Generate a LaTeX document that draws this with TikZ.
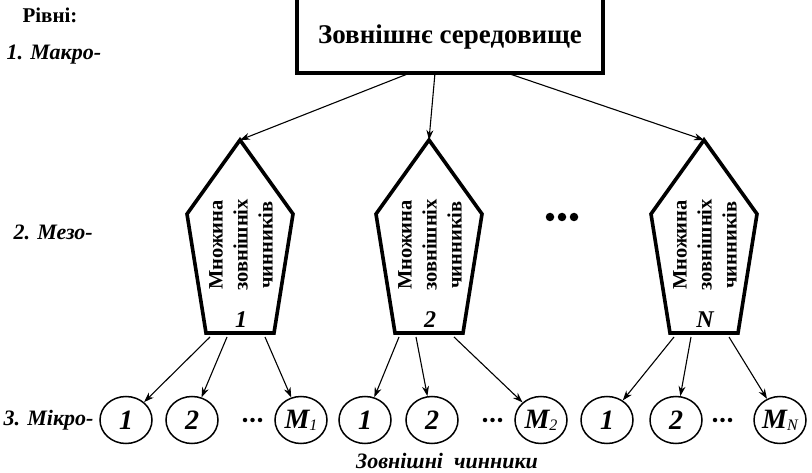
\documentclass[tikz,border=0pt]{standalone}
\usepackage{fontspec}
\setmainfont{Liberation Serif}
\usetikzlibrary{arrows.meta,shapes.geometric,calc}

% small lowered index after a letter, e.g. M_1
\newcommand{\lowidx}[1]{{\fontsize{16}{16}\selectfont\mdseries\raisebox{-2pt}{#1}}}

% pentagon "set of external factors": name, centre x, index
\newcommand{\factorset}[3]{%
  \coordinate (#1top) at (#2,140);
  \coordinate (#1tl) at ($(#2,140)+(-53,74)$);
  \coordinate (#1tr) at ($(#2,140)+(53,74)$);
  \coordinate (#1bl) at ($(#2,140)+(-34,193)$);
  \coordinate (#1br) at ($(#2,140)+(34,193)$);
  \draw[pent] (#1top) -- (#1tr) -- (#1br) -- (#1bl) -- (#1tl) -- cycle;
  \node[setlabel] (#1txt) at ($(#2,245)+(1,0)$) {Множина\\зовнішніх\\чинників};
  \node[idx] (#1idx) at ($(#2,320)+(1,0)$) {#3};
  \coordinate (#1o1) at ($(#2,337)+(-30,0)$);
  \coordinate (#1o2) at ($(#2,337)+(-13,0)$);
  \coordinate (#1o3) at ($(#2,337)+(25,0)$);
}

\begin{document}
\begin{tikzpicture}[x=1pt,y=-1pt,
  frame/.style={draw, line width=4pt, minimum width=306pt, minimum height=86pt, inner sep=0pt},
  title/.style={font=\fontsize{27}{30}\selectfont\bfseries},
  pent/.style={draw, line width=3.6pt, line join=miter},
  conn/.style={line width=1.1pt, -{Stealth[length=10pt,width=7pt]}},
  micro/.style={draw, ellipse, line width=1.5pt, minimum width=52pt, minimum height=47pt,
    inner sep=0pt, font=\fontsize{28}{28}\selectfont\bfseries\itshape},
  level/.style={anchor=west, font=\fontsize{22}{24}\selectfont\bfseries\itshape},
  setlabel/.style={rotate=90, align=center, font=\fontsize{20.5}{25}\selectfont\bfseries},
  idx/.style={font=\fontsize{24}{24}\selectfont\bfseries\itshape},
  bigdot/.style={circle, fill, inner sep=0pt, minimum size=8.5pt},
  smalldot/.style={circle, fill, inner sep=0pt, minimum size=4.5pt}
]
\useasboundingbox (0,0) rectangle (812,473);
\clip (0,0) rectangle (812,473);
\fill[white] (0,0) rectangle (812,473);

% levels
\node[font=\fontsize{21}{24}\selectfont\bfseries] (lev) at (50,15) {Рівні:};
\node[level] (macro) at (3,55) {1. Макро-};
\node[level] (meso) at (10,232) {2. Мезо-};
\node[level] (micro) at (0,420) {3. Мікро-};

% environment box (its top edge runs off the picture)
\node[frame] (env) at (450,30) {};
\node[title] (envtxt) at (450,37) {Зовнішнє середовище};
\coordinate (e1) at (410,73);
\coordinate (e2) at (435,73);
\coordinate (e3) at (507,73);

% meso level: sets of external factors
\factorset{sa}{240}{1}
\factorset{sb}{429}{2}
\factorset{sn}{704}{\textit{N}}

\node[bigdot] (d1) at (550,217) {};
\node[bigdot] (d2) at (562,217) {};
\node[bigdot] (d3) at (574,217) {};

\draw[conn] (e1) -- (satop);
\draw[conn] (e2) -- (sbtop);
\draw[conn] (e3) -- (sntop);

% micro level
\node[micro] (a1) at (126,420) {1};
\node[micro] (a2) at (192,420) {2};
\node[micro] (am) at (301,420) {M\lowidx{1}};
\node[micro] (b1) at (365,420) {1};
\node[micro] (b2) at (432,420) {2};
\node[micro] (bm) at (541,420) {M\lowidx{2}};
\node[micro] (n1) at (607,420) {1};
\node[micro] (n2) at (676,420) {2};
\node[micro] (nm) at (780,420) {M\lowidx{\textit{N}}};

\foreach \g/\x in {a/245, b/485, n/715} {
  \node[smalldot] (\g dl) at (\x,420) {};
  \node[smalldot] (\g dc) at (\x+7.5,420) {};
  \node[smalldot] (\g dr) at (\x+15,420) {};
}

\draw[conn] (sao1) -- (a1);
\draw[conn] (sao2) -- (a2);
\draw[conn] (sao3) -- (am);
\draw[conn] (sbo1) -- (b1);
\draw[conn] (sbo2) -- (b2);
\draw[conn] (sbo3) -- (bm);
\draw[conn] (sno1) -- (n1);
\draw[conn] (sno2) -- (n2);
\draw[conn] (sno3) -- (nm);

\node[font=\fontsize{22}{24}\selectfont\bfseries\itshape] (factors) at (447,461) {Зовнішні\ \ чинники};
\end{tikzpicture}
\end{document}
